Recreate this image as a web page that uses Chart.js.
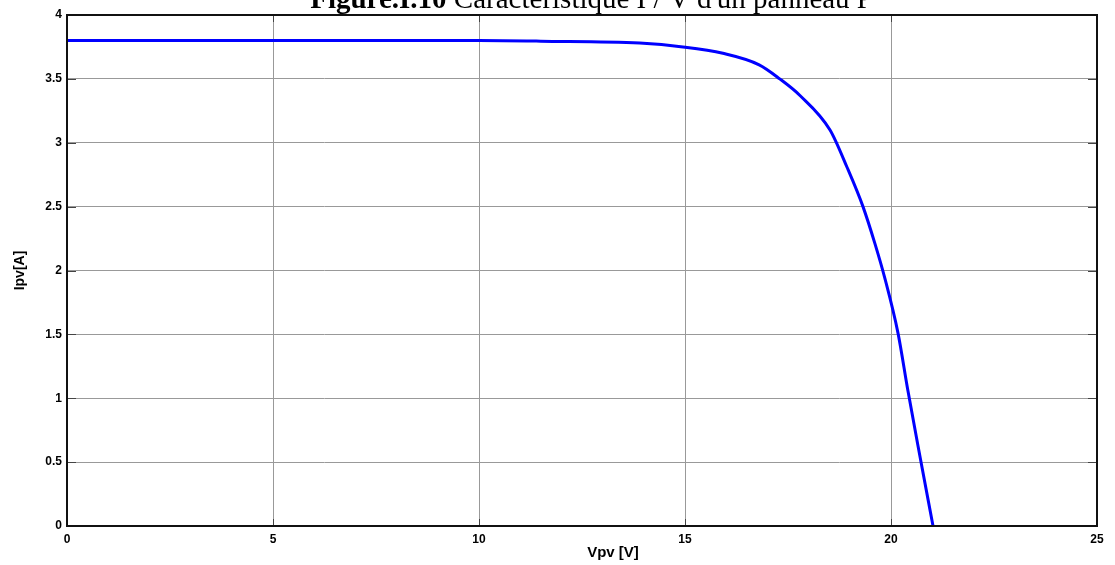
<!DOCTYPE html>
<html>
<head>
<meta charset="utf-8">
<script src="https://cdn.jsdelivr.net/npm/chart.js@4"></script>
<style>
  html, body { margin: 0; padding: 0; background: #fff; }
  #wrap { width: 1115px; height: 565px; position: relative; }
</style>
</head>
<body>
<div id="wrap"><canvas id="iv"></canvas></div>
<script>
// I/V curve of the panel, read point by point
const vpv = [0, 2, 4, 6, 8, 10, 11.5, 13.9, 14.95, 15.92, 16.8, 17.3, 17.79, 18.52, 18.93, 19.32, 19.61, 19.85, 20.17, 20.41, 20.7, 21.02]
const ipv = [3.8, 3.8, 3.8, 3.8, 3.8, 3.8, 3.795, 3.78, 3.75, 3.7, 3.61, 3.5, 3.37, 3.1, 2.81, 2.5, 2.21, 1.94, 1.51, 1.06, 0.55, 0]

const xTicks = [0, 5, 10, 15, 20, 25]
const yTicks = [0, 0.5, 1, 1.5, 2, 2.5, 3, 3.5, 4]

const titleBold = 'Figure.I.10'
const titleRest = ' Caractéristique I / V d\'un panneau P'
const xLabel = 'Vpv [V]'
const yLabel = 'Ipv[A]'

const points = vpv.map((v, i) => ({x: v, y: ipv[i]}))

// figure caption above the axes, plus the box and inward tick marks
const frame = {
  id: 'frame',
  afterDraw(chart) {
    const {ctx, chartArea: a, scales} = chart
    ctx.save()

    ctx.fillStyle = '#000'
    ctx.textBaseline = 'alphabetic'
    ctx.font = 'bold 29px "Liberation Serif"'
    const w1 = ctx.measureText(titleBold).width
    ctx.font = '29px "Liberation Serif"'
    const w2 = ctx.measureText(titleRest).width
    const start = 873 - w1 - w2
    ctx.font = 'bold 29px "Liberation Serif"'
    ctx.fillText(titleBold, start, 8)
    ctx.font = '29px "Liberation Serif"'
    ctx.fillText(titleRest, start + w1, 8)

    ctx.strokeStyle = '#444'
    ctx.lineWidth = 1
    ctx.beginPath()
    xTicks.forEach(t => {
      const px = Math.round(scales.x.getPixelForValue(t)) + 0.5
      ctx.moveTo(px, a.bottom); ctx.lineTo(px, a.bottom - 7)
      ctx.moveTo(px, a.top); ctx.lineTo(px, a.top + 7)
    })
    yTicks.forEach(t => {
      const py = Math.round(scales.y.getPixelForValue(t)) + 0.5
      ctx.moveTo(a.left, py); ctx.lineTo(a.left + 9, py)
      ctx.moveTo(a.right, py); ctx.lineTo(a.right - 9, py)
    })
    ctx.stroke()

    ctx.strokeStyle = '#111'
    ctx.lineWidth = 2
    ctx.strokeRect(a.left, a.top, a.right - a.left, a.bottom - a.top)

    ctx.font = 'bold 15px "Liberation Sans"'
    ctx.textAlign = 'center'
    ctx.textBaseline = 'middle'
    ctx.fillText(xLabel, 613, 553)
    ctx.restore()
  }
}

new Chart(document.getElementById('iv'), {
  type: 'scatter',
  data: {
    datasets: [{
      data: points,
      showLine: true,
      borderColor: '#0000ff',
      borderWidth: 3,
      pointRadius: 0,
      cubicInterpolationMode: 'monotone'
    }]
  },
  options: {
    responsive: true,
    maintainAspectRatio: false,
    animation: false,
    layout: {padding: {top: 15, right: 18, left: 0, bottom: 0}},
    plugins: {legend: {display: false}, tooltip: {enabled: false}},
    scales: {
      x: {
        type: 'linear',
        min: 0,
        max: 25,
        afterBuildTicks: s => { s.ticks = xTicks.map(v => ({value: v})) },
        afterFit: s => { s.height = 39 },
        grid: {color: '#999', lineWidth: 1, drawTicks: false},
        border: {display: false},
        ticks: {
          padding: 6,
          color: '#000',
          font: {family: 'Liberation Sans', size: 12, weight: 'bold'},
          maxRotation: 0,
          callback: v => String(v)
        }
      },
      y: {
        type: 'linear',
        min: 0,
        max: 4,
        afterBuildTicks: s => { s.ticks = yTicks.map(v => ({value: v})) },
        afterFit: s => { s.width = 67 },
        grid: {color: '#999', lineWidth: 1, drawTicks: false},
        border: {display: false},
        ticks: {
          padding: 5,
          color: '#000',
          font: {family: 'Liberation Sans', size: 12, weight: 'bold'},
          callback: v => String(v)
        },
        title: {
          display: true,
          text: yLabel,
          color: '#000',
          font: {family: 'Liberation Sans', size: 14, weight: 'bold'},
          padding: {top: 12, bottom: 0}
        }
      }
    }
  },
  plugins: [frame]
})
</script>
</body>
</html>
